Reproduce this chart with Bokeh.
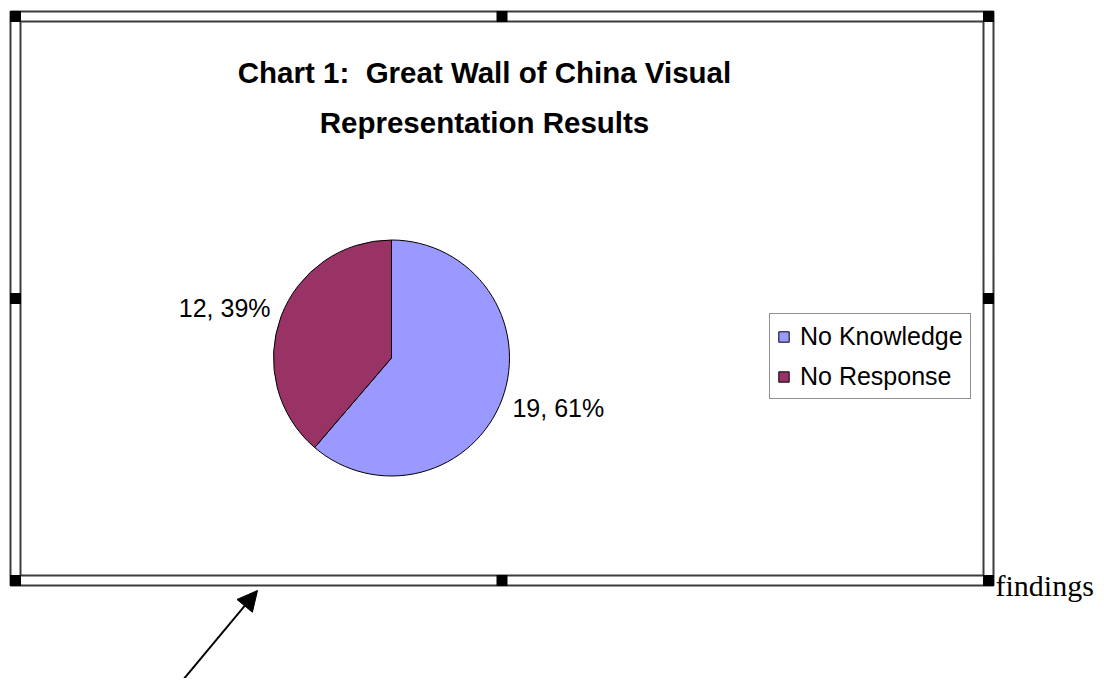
import math
from bokeh.plotting import figure
from bokeh.models import ColumnDataSource, Range1d, Label, Legend, LegendItem, Arrow, NormalHead
from bokeh.core.properties import value
from bokeh.embed import file_html
from bokeh.resources import INLINE

# ---- data ----
categories = ["No Knowledge", "No Response"]
counts = [19, 12]
colors = ["#9999FF", "#993366"]
title_lines = ["Chart 1:\u00a0 Great Wall of China Visual", "Representation Results"]
side_text = "findings"

# ---- layout (pixel positions in the picture) ----
W, H = 1096, 678
OFF = 0


def X(px):
    return px - OFF


def Y(py):
    return H + OFF - py


p = figure(width=W, height=H, x_range=Range1d(0, W), y_range=Range1d(0, H),
           output_backend="svg", toolbar_location=None, min_border=0,
           x_axis_location=None, y_axis_location=None, outline_line_color=None,
           background_fill_color="white", border_fill_color="white")
p.xgrid.visible = False
p.ygrid.visible = False

# double frame
FRAME_COLOR = "#3c3c3c"
for (l, t, r, b) in [(10, 11, 993, 585), (20, 21, 983, 575)]:
    p.rect(x=X((l + r) / 2), y=Y((t + b) / 2), width=r - l, height=b - t,
           fill_color=None, line_color=FRAME_COLOR, line_width=2)

# selection handles
hx = [15, 501.5, 988]
hy = [16, 298, 580]
pts = [(a, b) for a in hx for b in hy if not (a == hx[1] and b == hy[1])]
p.rect(x=[X(a) for a, b in pts], y=[Y(b) for a, b in pts], width=11, height=11,
       fill_color="black", line_color=None)

# ---- pie ----
total = sum(counts)
fracs = [c / total for c in counts]
start, end, mids = [], [], []
acc = 0.0
for f in fracs:
    start.append(math.pi / 2 - 2 * math.pi * acc)
    end.append(math.pi / 2 - 2 * math.pi * (acc + f))
    mids.append(2 * math.pi * (acc + f / 2))  # clockwise from 12 o'clock
    acc += f

CX, CY, R = X(391), Y(357.5), 118
src = ColumnDataSource(dict(cat=categories, count=counts, start=start, end=end, color=colors))
wr = p.wedge(x=CX, y=CY, radius=R, start_angle="start", end_angle="end",
             direction="clock", fill_color="color", line_color="black",
             line_width=1, source=src)

# data labels
for c, f, m in zip(counts, fracs, mids):
    lab = f"{c}, {round(100 * f)}%"
    lx = CX + (R + 11) * math.sin(m)
    ly = CY + (R + 26) * math.cos(m)
    p.text(x=[lx], y=[ly], text=[lab],
           text_align="left" if math.sin(m) > 0 else "right",
           text_baseline="middle", text_font=value("Liberation Sans"),
           text_font_size="25px", text_color="black")

# legend
legend = Legend(items=[LegendItem(label=categories[i], renderers=[wr], index=i)
                       for i in range(len(categories))],
                location=(X(769), Y(399)), orientation="vertical",
                border_line_color="#222222", border_line_width=1.5,
                background_fill_color="white", background_fill_alpha=1,
                padding=7, spacing=10, label_height=30, glyph_height=13,
                glyph_width=13, label_standoff=10, margin=0,
                label_text_font="Liberation Sans", label_text_font_size="25px",
                label_text_color="black")
p.add_layout(legend)

# title
for i, line in enumerate(title_lines):
    p.add_layout(Label(x=X(484), y=Y(72 + 50 * i), text=line, text_align="center",
                       text_baseline="alphabetic", text_font="Liberation Sans",
                       text_font_style="bold", text_font_size="29.5px",
                       text_color="black"))

# side text
p.add_layout(Label(x=X(995), y=Y(585), text=side_text, text_align="left",
                   text_baseline="alphabetic", text_font="Liberation Serif",
                   text_font_size="30px", text_color="black"))

# arrow
p.add_layout(Arrow(end=NormalHead(size=20, fill_color="black", line_color="black"),
                   x_start=X(177), y_start=Y(686), x_end=X(257), y_end=Y(590),
                   line_width=2, line_color="black"))

open("out.html", "w").write(file_html(p, INLINE))
